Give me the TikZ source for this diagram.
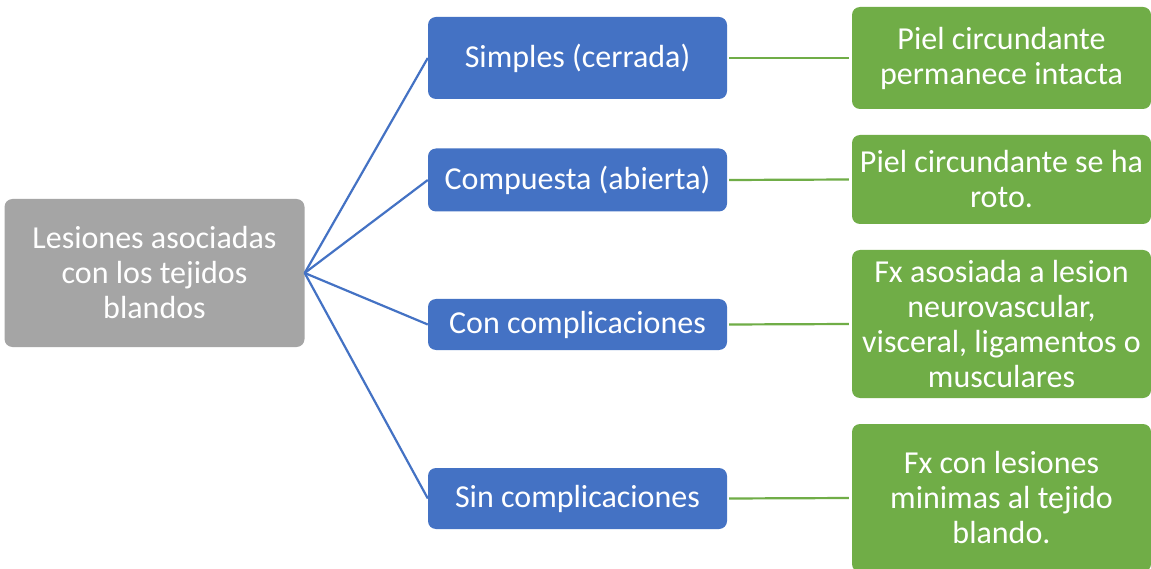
\documentclass[tikz,border=0pt]{standalone}
\usepackage{fontspec}
\setmainfont{Carlito}
\definecolor{cblue}{HTML}{4472C4}
\definecolor{cgreen}{HTML}{70AD47}
\definecolor{cgray}{HTML}{A5A5A5}
\begin{document}
\begin{tikzpicture}[x=1pt,y=-1pt,
  boxbase/.style={rounded corners=8pt, text=white, align=center, inner sep=0pt,
    font=\fontsize{32}{35}\selectfont, minimum width=299pt},
  graybox/.style={boxbase, fill=cgray, minimum width=300pt},
  bluebox/.style={boxbase, fill=cblue},
  greenbox/.style={boxbase, fill=cgreen},
  blueline/.style={draw=cblue, line width=2.2pt},
  greenline/.style={draw=cgreen, line width=2.2pt, shorten <=2pt, shorten >=3pt}]
\useasboundingbox (0,0) rectangle (1151,569);
\clip (0,0) rectangle (1151,569);
\fill[white] (0,0) rectangle (1151,569);
\node[graybox, minimum height=148pt] (root) at (154.5,273) {Lesiones asociadas\\con los tejidos\\blandos};
\node[bluebox, minimum height=82pt] (b1) at (577.5,58) {Simples (cerrada)};
\node[bluebox, minimum height=63pt] (b2) at (577.5,180) {Compuesta (abierta)};
\node[bluebox, minimum height=51pt] (b3) at (577.5,324.5) {Con complicaciones};
\node[bluebox, minimum height=61pt] (b4) at (577.5,498.5) {Sin complicaciones};
\node[greenbox, minimum height=102pt] (g1) at (1001.5,58) {Piel circundante\\permanece intacta};
\node[greenbox, minimum height=89pt] (g2) at (1001.5,179.5) {Piel circundante se ha\\roto.};
\node[greenbox, minimum height=148pt] (g3) at (1001.5,324) {Fx asosiada a lesion\\neurovascular,\\visceral, ligamentos o\\musculares};
\node[greenbox, minimum height=148pt] (g4) at (1001.5,498) {Fx con lesiones\\minimas al tejido\\blando.};
\foreach \b in {b1,b2,b3,b4} \draw[blueline] (root.east) -- (\b.west);
\draw[greenline] (b1.east) -- (g1.west);
\draw[greenline] (b2.east) -- (g2.west);
\draw[greenline] (b3.east) -- (g3.west);
\draw[greenline] (b4.east) -- (g4.west);
\end{tikzpicture}
\end{document}
